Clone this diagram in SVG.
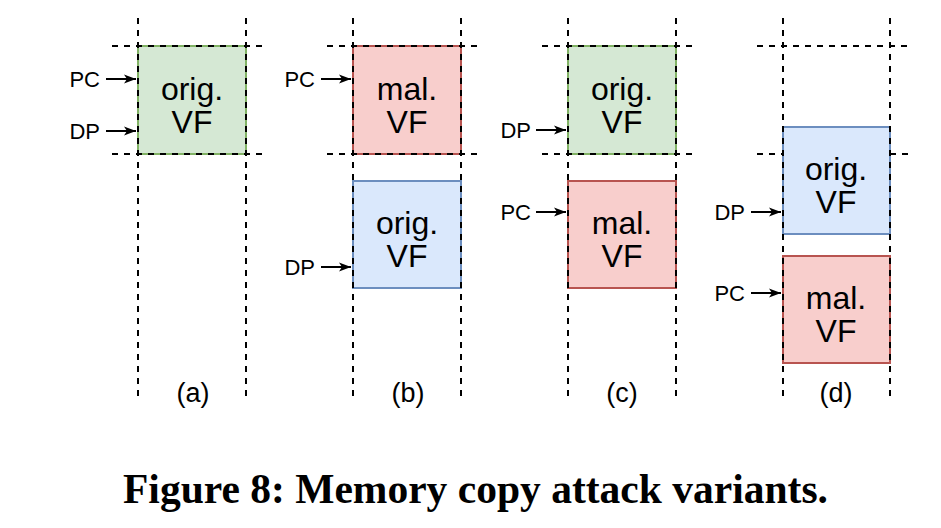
<svg xmlns="http://www.w3.org/2000/svg" width="941" height="528" viewBox="0 0 941 528">
<defs>
<marker id="arr" viewBox="0 0 12 10" refX="12" refY="5" markerWidth="12" markerHeight="10" markerUnits="userSpaceOnUse" orient="auto">
<path d="M0,0.5 L12,5 L0,9.5 L3,5 Z" fill="#000"/>
</marker>
</defs>
<style>
.dash{stroke:#000;stroke-width:2;stroke-dasharray:6 6;fill:none}
.green{fill:#d5e8d4;stroke:#82b366;stroke-width:2}
.red{fill:#f8cecc;stroke:#b85450;stroke-width:2}
.blue{fill:#dae8fc;stroke:#6c8ebf;stroke-width:2}
.lbl{font-family:"Liberation Sans",Arial,sans-serif;font-size:32px;fill:#000;text-anchor:middle}
.ptr{font-family:"Liberation Sans",Arial,sans-serif;font-size:22px;fill:#000;text-anchor:end}
.cap{font-family:"Liberation Sans",Arial,sans-serif;font-size:27px;fill:#000;text-anchor:middle}
.arrow{stroke:#000;stroke-width:2;fill:none;marker-end:url(#arr)}
.title{font-family:"Liberation Serif","Times New Roman",serif;font-size:43px;font-weight:bold;fill:#000}
</style>
<rect width="941" height="528" fill="#fff"/>

<g id="hlines-under">
<line class="dash" x1="757" y1="154" x2="783" y2="154"/>
<line class="dash" x1="890" y1="154" x2="911" y2="154"/>
</g>

<g id="boxes">
<g id="a-orig"><rect class="green" x="138" y="46" width="108" height="108"/><text class="lbl" x="192" y="100">orig.</text><text class="lbl" x="192" y="133">VF</text></g>
<g id="b-mal"><rect class="red" x="353" y="46" width="108" height="108"/><text class="lbl" x="407" y="100">mal.</text><text class="lbl" x="407" y="133">VF</text></g>
<g id="b-orig"><rect class="blue" x="353" y="181" width="108" height="107"/><text class="lbl" x="407" y="234">orig.</text><text class="lbl" x="407" y="267">VF</text></g>
<g id="c-orig"><rect class="green" x="568" y="46" width="108" height="108"/><text class="lbl" x="622" y="100">orig.</text><text class="lbl" x="622" y="133">VF</text></g>
<g id="c-mal"><rect class="red" x="568" y="181" width="108" height="107"/><text class="lbl" x="622" y="234">mal.</text><text class="lbl" x="622" y="267">VF</text></g>
<g id="d-orig"><rect class="blue" x="783" y="127" width="107" height="107"/><text class="lbl" x="836" y="180">orig.</text><text class="lbl" x="836" y="213">VF</text></g>
<g id="d-mal"><rect class="red" x="783" y="256" width="107" height="107"/><text class="lbl" x="836" y="309">mal.</text><text class="lbl" x="836" y="342">VF</text></g>
</g>

<g id="gridlines">
<line class="dash" x1="138" y1="18" x2="138" y2="402"/>
<line class="dash" x1="246" y1="18" x2="246" y2="402"/>
<line class="dash" x1="112" y1="46" x2="266" y2="46"/>
<line class="dash" x1="112" y1="154" x2="266" y2="154"/>
<line class="dash" x1="353" y1="18" x2="353" y2="402"/>
<line class="dash" x1="461" y1="18" x2="461" y2="402"/>
<line class="dash" x1="327" y1="46" x2="481" y2="46"/>
<line class="dash" x1="327" y1="154" x2="481" y2="154"/>
<line class="dash" x1="568" y1="18" x2="568" y2="402"/>
<line class="dash" x1="676" y1="18" x2="676" y2="402"/>
<line class="dash" x1="542" y1="46" x2="696" y2="46"/>
<line class="dash" x1="542" y1="154" x2="696" y2="154"/>
<line class="dash" x1="783" y1="18" x2="783" y2="402"/>
<line class="dash" x1="890" y1="18" x2="890" y2="402"/>
<line class="dash" x1="757" y1="46" x2="911" y2="46"/>
</g>

<g id="connectors">
<line class="arrow" x1="106" y1="79" x2="136" y2="79"/>
<line class="arrow" x1="106" y1="131" x2="136" y2="131"/>
<line class="arrow" x1="321" y1="79" x2="351" y2="79"/>
<line class="arrow" x1="321" y1="267" x2="351" y2="267"/>
<line class="arrow" x1="536" y1="130" x2="566" y2="130"/>
<line class="arrow" x1="536" y1="212" x2="566" y2="212"/>
<line class="arrow" x1="751" y1="212" x2="781" y2="212"/>
<line class="arrow" x1="751" y1="293" x2="781" y2="293"/>
</g>

<g id="pointer-labels">
<text class="ptr" x="100" y="87">PC</text>
<text class="ptr" x="100" y="139">DP</text>
<text class="ptr" x="315" y="87">PC</text>
<text class="ptr" x="315" y="275">DP</text>
<text class="ptr" x="531" y="138">DP</text>
<text class="ptr" x="531" y="220">PC</text>
<text class="ptr" x="745" y="220">DP</text>
<text class="ptr" x="745" y="301">PC</text>
</g>

<g id="captions">
<text class="cap" x="193" y="402">(a)</text>
<text class="cap" x="408" y="402">(b)</text>
<text class="cap" x="622" y="402">(c)</text>
<text class="cap" x="836" y="402">(d)</text>
</g>

<text class="title" x="123" y="503" textLength="705" lengthAdjust="spacingAndGlyphs">Figure 8: Memory copy attack variants.</text>
</svg>
